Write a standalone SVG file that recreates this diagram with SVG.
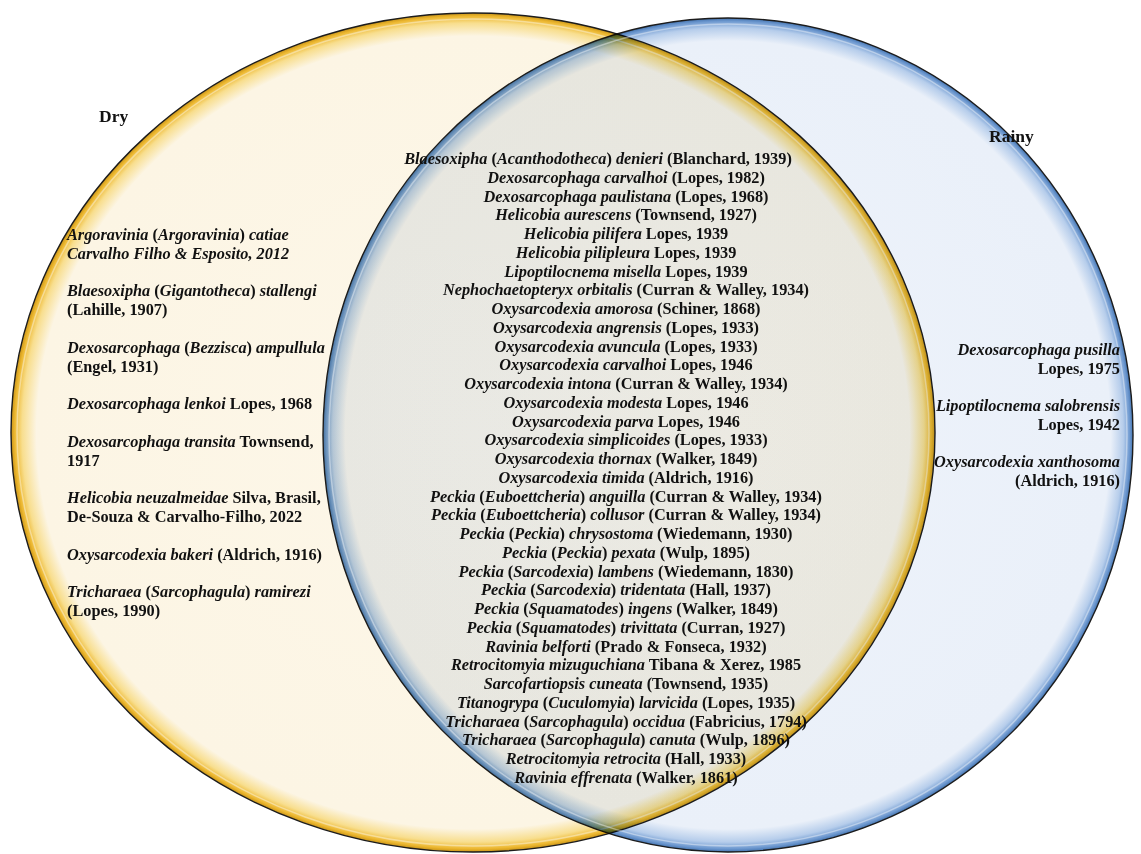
<svg xmlns="http://www.w3.org/2000/svg" width="1141" height="854" viewBox="0 0 1141 854">
<style>
.t{font-family:"Liberation Serif","Times New Roman",serif;font-weight:bold;font-size:16.3px;fill:#111}
.i{font-style:italic}
.lbl{font-family:"Liberation Serif","Times New Roman",serif;font-weight:bold;font-size:17.5px;fill:#111}
.c{text-anchor:middle}
.r{text-anchor:end}
.hl{fill:none;stroke:#fff;stroke-width:1.5;stroke-opacity:0.4}
</style>
<defs>
<radialGradient id="gDry" cx="50%" cy="50%" r="50%">
<stop offset="0" stop-color="#FDF7E9"/>
<stop offset="0.945" stop-color="#FCF5E4"/>
<stop offset="0.976" stop-color="#F8DE8E"/>
<stop offset="0.992" stop-color="#EDB830"/>
<stop offset="1" stop-color="#C99419"/>
</radialGradient>
<radialGradient id="gRainy" cx="50%" cy="50%" r="50%">
<stop offset="0" stop-color="#EEF3FB"/>
<stop offset="0.945" stop-color="#EAF0F9"/>
<stop offset="0.976" stop-color="#B6CDEB"/>
<stop offset="0.992" stop-color="#6E99D0"/>
<stop offset="1" stop-color="#4474B0"/>
</radialGradient>
</defs>
<rect width="1141" height="854" fill="#fff"/>
<g id="dry">
<ellipse cx="473" cy="432.5" rx="462" ry="419.5" fill="url(#gDry)" stroke="#1c1c1c" stroke-width="1.4"/>
<ellipse class="hl" cx="473" cy="432.5" rx="456" ry="413.5"/>
<text class="lbl" x="99" y="122">Dry</text>
</g>
<g id="rainy" style="mix-blend-mode:multiply">
<ellipse cx="728" cy="435" rx="405" ry="417" fill="url(#gRainy)" stroke="#1c1c1c" stroke-width="1.4"/>
</g>
<g id="rainy-rim">
<ellipse class="hl" cx="728" cy="435" rx="399" ry="411"/>
<text class="lbl" x="989" y="142">Rainy</text>
</g>
<g id="dry-only" class="t">
<text x="67" y="240"><tspan class="i">Argoravinia</tspan> (<tspan class="i">Argoravinia</tspan>) <tspan class="i">catiae</tspan></text>
<text x="67" y="258.8" class="i">Carvalho Filho &amp; Esposito, 2012</text>
<text x="67" y="296.4"><tspan class="i">Blaesoxipha</tspan> (<tspan class="i">Gigantotheca</tspan>) <tspan class="i">stallengi</tspan></text>
<text x="67" y="315.2">(Lahille, 1907)</text>
<text x="67" y="352.8"><tspan class="i">Dexosarcophaga</tspan> (<tspan class="i">Bezzisca</tspan>) <tspan class="i">ampullula</tspan></text>
<text x="67" y="371.6">(Engel, 1931)</text>
<text x="67" y="409.2"><tspan class="i">Dexosarcophaga lenkoi</tspan> Lopes, 1968</text>
<text x="67" y="446.8"><tspan class="i">Dexosarcophaga transita</tspan> Townsend,</text>
<text x="67" y="465.6">1917</text>
<text x="67" y="503.2"><tspan class="i">Helicobia neuzalmeidae</tspan> Silva, Brasil,</text>
<text x="67" y="522">De-Souza &amp; Carvalho-Filho, 2022</text>
<text x="67" y="559.6"><tspan class="i">Oxysarcodexia bakeri</tspan> (Aldrich, 1916)</text>
<text x="67" y="597.2"><tspan class="i">Tricharaea</tspan> (<tspan class="i">Sarcophagula</tspan>) <tspan class="i">ramirezi</tspan></text>
<text x="67" y="616">(Lopes, 1990)</text>
</g>
<g id="both" class="t c">
<text x="598" y="164"><tspan class="i">Blaesoxipha</tspan> (<tspan class="i">Acanthodotheca</tspan>) <tspan class="i">denieri</tspan> (Blanchard, 1939)</text>
<text x="626" y="182.75"><tspan class="i">Dexosarcophaga carvalhoi</tspan> (Lopes, 1982)</text>
<text x="626" y="201.5"><tspan class="i">Dexosarcophaga paulistana</tspan> (Lopes, 1968)</text>
<text x="626" y="220.25"><tspan class="i">Helicobia aurescens</tspan> (Townsend, 1927)</text>
<text x="626" y="239"><tspan class="i">Helicobia pilifera</tspan> Lopes, 1939</text>
<text x="626" y="257.75"><tspan class="i">Helicobia pilipleura</tspan> Lopes, 1939</text>
<text x="626" y="276.5"><tspan class="i">Lipoptilocnema misella</tspan> Lopes, 1939</text>
<text x="626" y="295.25"><tspan class="i">Nephochaetopteryx orbitalis</tspan> (Curran &amp; Walley, 1934)</text>
<text x="626" y="314"><tspan class="i">Oxysarcodexia amorosa</tspan> (Schiner, 1868)</text>
<text x="626" y="332.75"><tspan class="i">Oxysarcodexia angrensis</tspan> (Lopes, 1933)</text>
<text x="626" y="351.5"><tspan class="i">Oxysarcodexia avuncula</tspan> (Lopes, 1933)</text>
<text x="626" y="370.25"><tspan class="i">Oxysarcodexia carvalhoi</tspan> Lopes, 1946</text>
<text x="626" y="389"><tspan class="i">Oxysarcodexia intona</tspan> (Curran &amp; Walley, 1934)</text>
<text x="626" y="407.75"><tspan class="i">Oxysarcodexia modesta</tspan> Lopes, 1946</text>
<text x="626" y="426.5"><tspan class="i">Oxysarcodexia parva</tspan> Lopes, 1946</text>
<text x="626" y="445.25"><tspan class="i">Oxysarcodexia simplicoides</tspan> (Lopes, 1933)</text>
<text x="626" y="464"><tspan class="i">Oxysarcodexia thornax</tspan> (Walker, 1849)</text>
<text x="626" y="482.75"><tspan class="i">Oxysarcodexia timida</tspan> (Aldrich, 1916)</text>
<text x="626" y="501.5"><tspan class="i">Peckia</tspan> (<tspan class="i">Euboettcheria</tspan>) <tspan class="i">anguilla</tspan> (Curran &amp; Walley, 1934)</text>
<text x="626" y="520.25"><tspan class="i">Peckia</tspan> (<tspan class="i">Euboettcheria</tspan>) <tspan class="i">collusor</tspan> (Curran &amp; Walley, 1934)</text>
<text x="626" y="539"><tspan class="i">Peckia</tspan> (<tspan class="i">Peckia</tspan>) <tspan class="i">chrysostoma</tspan> (Wiedemann, 1930)</text>
<text x="626" y="557.75"><tspan class="i">Peckia</tspan> (<tspan class="i">Peckia</tspan>) <tspan class="i">pexata</tspan> (Wulp, 1895)</text>
<text x="626" y="576.5"><tspan class="i">Peckia</tspan> (<tspan class="i">Sarcodexia</tspan>) <tspan class="i">lambens</tspan> (Wiedemann, 1830)</text>
<text x="626" y="595.25"><tspan class="i">Peckia</tspan> (<tspan class="i">Sarcodexia</tspan>) <tspan class="i">tridentata</tspan> (Hall, 1937)</text>
<text x="626" y="614"><tspan class="i">Peckia</tspan> (<tspan class="i">Squamatodes</tspan>) <tspan class="i">ingens</tspan> (Walker, 1849)</text>
<text x="626" y="632.75"><tspan class="i">Peckia</tspan> (<tspan class="i">Squamatodes</tspan>) <tspan class="i">trivittata</tspan> (Curran, 1927)</text>
<text x="626" y="651.5"><tspan class="i">Ravinia belforti</tspan> (Prado &amp; Fonseca, 1932)</text>
<text x="626" y="670.25"><tspan class="i">Retrocitomyia mizuguchiana</tspan> Tibana &amp; Xerez, 1985</text>
<text x="626" y="689"><tspan class="i">Sarcofartiopsis cuneata</tspan> (Townsend, 1935)</text>
<text x="626" y="707.75"><tspan class="i">Titanogrypa</tspan> (<tspan class="i">Cuculomyia</tspan>) <tspan class="i">larvicida</tspan> (Lopes, 1935)</text>
<text x="626" y="726.5"><tspan class="i">Tricharaea</tspan> (<tspan class="i">Sarcophagula</tspan>) <tspan class="i">occidua</tspan> (Fabricius, 1794)</text>
<text x="626" y="745.25"><tspan class="i">Tricharaea</tspan> (<tspan class="i">Sarcophagula</tspan>) <tspan class="i">canuta</tspan> (Wulp, 1896)</text>
<text x="626" y="764"><tspan class="i">Retrocitomyia retrocita</tspan> (Hall, 1933)</text>
<text x="626" y="782.75"><tspan class="i">Ravinia effrenata</tspan> (Walker, 1861)</text>
</g>
<g id="rainy-only" class="t r">
<text x="1120" y="355" class="i">Dexosarcophaga pusilla</text>
<text x="1120" y="373.8">Lopes, 1975</text>
<text x="1120" y="411" class="i">Lipoptilocnema salobrensis</text>
<text x="1120" y="429.7">Lopes, 1942</text>
<text x="1120" y="467" class="i">Oxysarcodexia xanthosoma</text>
<text x="1120" y="486">(Aldrich, 1916)</text>
</g>
</svg>
